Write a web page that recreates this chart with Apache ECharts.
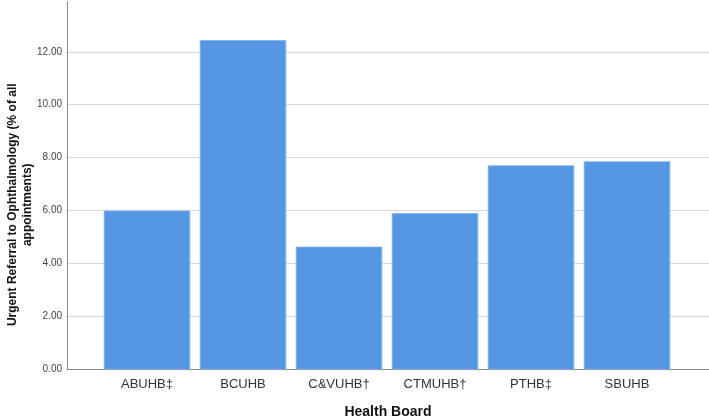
<!DOCTYPE html>
<html>
<head>
<meta charset="utf-8">
<script src="https://cdn.jsdelivr.net/npm/echarts@6/dist/echarts.min.js"></script>
<style>
html,body{margin:0;padding:0;background:#fff;}
#chart{width:709px;height:418px;}
</style>
</head>
<body>
<div id="chart"></div>
<script>
var categories = ['ABUHB\u2021', 'BCUHB', 'C&VUHB\u2020', 'CTMUHB\u2020', 'PTHB\u2021', 'SBUHB'];
var values = [6.00, 12.44, 4.64, 5.91, 7.71, 7.86];
var yTickInterval = 2;
var yMin = 0;
var yMax = 13.88;
var yAxisTitle = 'Urgent Referral to Ophthalmology (% of all\nappointments)';
var xAxisTitle = 'Health Board';

var chart = echarts.init(document.getElementById('chart'), null, {renderer: 'canvas'});
var fontFamily = '"Liberation Sans", Arial, sans-serif';
chart.setOption({
  animation: false,
  backgroundColor: '#ffffff',
  grid: [
    {left: 67, right: 0, top: 2, bottom: 48.5, containLabel: false, outerBoundsMode: 'none'},
    {left: 99, right: 34, top: 2, bottom: 48.5, containLabel: false, outerBoundsMode: 'none'}
  ],
  xAxis: [
    {
      type: 'category', gridIndex: 0, data: categories,
      axisLine: {show: true, lineStyle: {color: '#8a8a8a', width: 1}},
      axisTick: {show: false}, axisLabel: {show: false}, splitLine: {show: false},
      name: xAxisTitle, nameLocation: 'middle', nameGap: 36, nameMoveOverlap: false,
      nameTextStyle: {fontFamily: fontFamily, fontSize: 14, fontWeight: 'bold', color: '#111'}
    },
    {
      type: 'category', gridIndex: 1, data: categories,
      axisLine: {show: false}, axisTick: {show: false},
      axisLabel: {show: true, margin: 8, fontFamily: fontFamily, fontSize: 13, color: '#333'}
    }
  ],
  yAxis: [
    {
      type: 'value', gridIndex: 0, min: yMin, max: yMax, interval: yTickInterval,
      axisLine: {show: true, lineStyle: {color: '#8a8a8a', width: 1}},
      axisTick: {show: false},
      axisLabel: {
        show: true, margin: 5, fontFamily: fontFamily, fontSize: 10, color: '#444',
        showMaxLabel: false,
        formatter: function (v) { return (Math.abs(v / yTickInterval - Math.round(v / yTickInterval)) < 1e-6) ? v.toFixed(2) : ''; }
      },
      splitLine: {show: true, showMaxLine: false, lineStyle: {color: '#d6d6d6', width: 1}},
      name: yAxisTitle, nameLocation: 'middle', nameGap: 32, nameRotate: 90, nameMoveOverlap: false,
      nameTextStyle: {fontFamily: fontFamily, fontSize: 12, fontWeight: 'bold', color: '#111', lineHeight: 15, align: 'center', padding: [0, 38, 0, 0]}
    },
    {
      type: 'value', gridIndex: 1, min: yMin, max: yMax, interval: yTickInterval, show: false,
      splitLine: {show: false}
    }
  ],
  series: [
    {
      type: 'bar', xAxisIndex: 1, yAxisIndex: 1, data: values,
      barCategoryGap: '10%',
      itemStyle: {color: '#5596e5', borderColor: '#7eb0ee', borderWidth: 0.8}
    }
  ]
});
</script>
</body>
</html>
